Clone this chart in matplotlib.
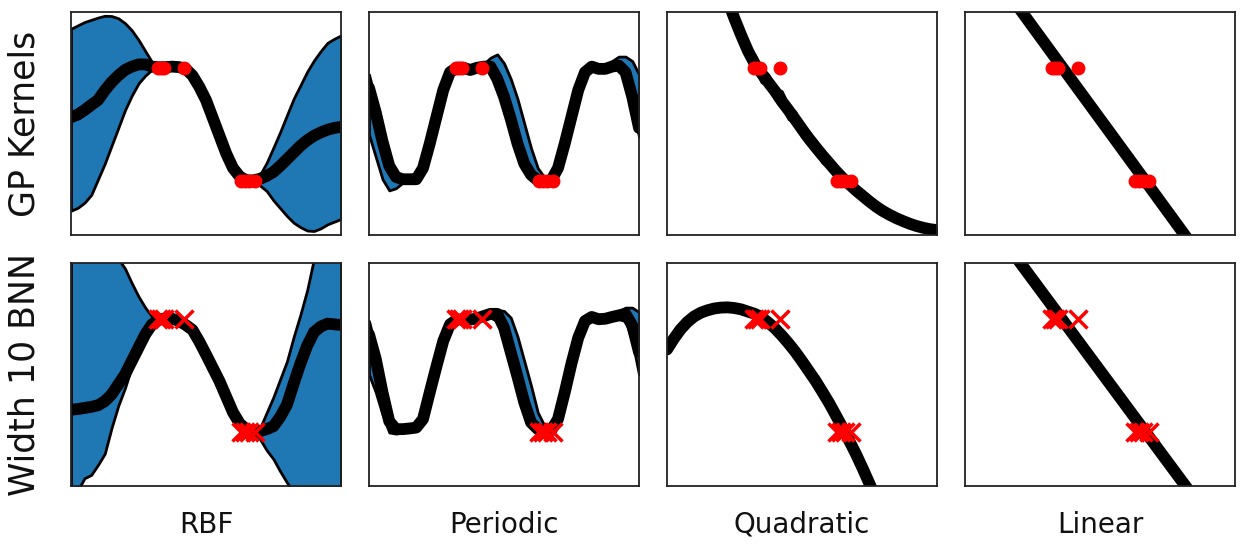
import matplotlib
matplotlib.use("Agg")
import matplotlib.pyplot as plt

# ---------------- data (panel-normalised coordinates) ----------------
x_grid = [0.0, 0.025, 0.05, 0.075, 0.1, 0.125, 0.15, 0.175, 0.2, 0.225,
          0.25, 0.275, 0.3, 0.325, 0.35, 0.375, 0.4, 0.425, 0.45, 0.475,
          0.5, 0.525, 0.55, 0.575, 0.6, 0.625, 0.65, 0.675, 0.7, 0.725,
          0.75, 0.775, 0.8, 0.825, 0.85, 0.875, 0.9, 0.925, 0.95, 0.975, 1.0]

obs_x = [0.322, 0.333, 0.345, 0.417, 0.63, 0.645, 0.66, 0.68]
obs_y = [0.748, 0.748, 0.748, 0.748, 0.244, 0.244, 0.244, 0.244]

# GP, RBF kernel
rbf_gp_mean = [0.528, 0.540, 0.560, 0.583, 0.605, 0.648, 0.685, 0.715, 0.740, 0.755,
               0.765, 0.765, 0.755, 0.752, 0.753, 0.755, 0.753, 0.745, 0.715, 0.665,
               0.605, 0.525, 0.445, 0.365, 0.300, 0.262, 0.245, 0.245, 0.252, 0.265,
               0.283, 0.310, 0.340, 0.370, 0.400, 0.425, 0.445, 0.460, 0.472, 0.480, 0.485]
rbf_gp_upper = [0.925, 0.940, 0.955, 0.965, 0.975, 0.983, 0.982, 0.972, 0.950, 0.918,
                0.875, 0.825, 0.775, 0.760, 0.760, 0.762, 0.762, 0.760, 0.735, 0.685,
                0.625, 0.545, 0.462, 0.380, 0.312, 0.268, 0.250, 0.255, 0.270, 0.325,
                0.393, 0.463, 0.538, 0.612, 0.672, 0.733, 0.783, 0.825, 0.862, 0.880, 0.895]
rbf_gp_lower = [0.109, 0.122, 0.145, 0.180, 0.250, 0.320, 0.400, 0.480, 0.560, 0.625,
                0.680, 0.715, 0.742, 0.745, 0.746, 0.748, 0.745, 0.732, 0.695, 0.645,
                0.585, 0.505, 0.428, 0.350, 0.288, 0.255, 0.240, 0.238, 0.222, 0.197,
                0.155, 0.120, 0.085, 0.055, 0.035, 0.020, 0.018, 0.030, 0.048, 0.060, 0.072]

# BNN, RBF
rbf_bnn_mean = [0.342, 0.345, 0.350, 0.355, 0.362, 0.380, 0.410, 0.455, 0.500, 0.560,
                0.620, 0.680, 0.725, 0.745, 0.752, 0.750, 0.740, 0.722, 0.700, 0.648,
                0.590, 0.530, 0.470, 0.400, 0.330, 0.280, 0.253, 0.248, 0.246, 0.255,
                0.268, 0.310, 0.365, 0.460, 0.550, 0.630, 0.690, 0.715, 0.728, 0.725, 0.722]
rbf_bnn_upper = [1.30, 1.28, 1.25, 1.20, 1.15, 1.10, 1.06, 1.02, 0.975, 0.910,
                 0.850, 0.800, 0.760, 0.755, 0.757, 0.756, 0.748, 0.730, 0.708, 0.660,
                 0.602, 0.542, 0.482, 0.412, 0.342, 0.290, 0.262, 0.256, 0.260, 0.330,
                 0.400, 0.480, 0.560, 0.670, 0.770, 0.880, 1.02, 1.10, 1.15, 1.20, 1.25]
rbf_bnn_lower = [-0.10, -0.02, 0.035, 0.050, 0.095, 0.145, 0.260, 0.360, 0.440, 0.535,
                 0.620, 0.675, 0.715, 0.735, 0.745, 0.744, 0.732, 0.714, 0.692, 0.635,
                 0.578, 0.518, 0.458, 0.388, 0.318, 0.270, 0.244, 0.238, 0.210, 0.160,
                 0.120, 0.065, 0.015, -0.03, -0.08, -0.12, -0.15, -0.18, -0.20, -0.20, -0.20]

# GP, periodic kernel
per_gp_mean = [0.66, 0.55, 0.42, 0.31, 0.26, 0.25, 0.25, 0.25, 0.30, 0.41,
               0.53, 0.65, 0.73, 0.75, 0.75, 0.74, 0.75, 0.755, 0.755, 0.70,
               0.62, 0.52, 0.41, 0.32, 0.27, 0.245, 0.24, 0.245, 0.30, 0.41,
               0.53, 0.65, 0.73, 0.755, 0.745, 0.745, 0.755, 0.76, 0.73, 0.62, 0.48]
per_gp_upper = [0.72, 0.60, 0.46, 0.34, 0.275, 0.26, 0.26, 0.26, 0.32, 0.43,
                0.55, 0.67, 0.745, 0.758, 0.758, 0.748, 0.758, 0.768, 0.795, 0.81,
                0.77, 0.70, 0.61, 0.50, 0.39, 0.30, 0.258, 0.25, 0.31, 0.42,
                0.54, 0.66, 0.74, 0.765, 0.76, 0.765, 0.78, 0.80, 0.80, 0.78, 0.72]
per_gp_lower = [0.45, 0.35, 0.25, 0.20, 0.21, 0.235, 0.24, 0.24, 0.285, 0.39,
                0.51, 0.63, 0.715, 0.742, 0.742, 0.732, 0.74, 0.745, 0.735, 0.68,
                0.60, 0.50, 0.39, 0.30, 0.255, 0.235, 0.232, 0.24, 0.29, 0.40,
                0.52, 0.64, 0.72, 0.745, 0.735, 0.735, 0.745, 0.745, 0.70, 0.58, 0.44]

# BNN, periodic
per_bnn_mean = [0.68, 0.57, 0.42, 0.29, 0.255, 0.255, 0.258, 0.262, 0.30, 0.42,
                0.537, 0.65, 0.725, 0.746, 0.748, 0.746, 0.752, 0.762, 0.772, 0.772,
                0.71, 0.60, 0.49, 0.375, 0.285, 0.255, 0.247, 0.25, 0.30, 0.42,
                0.55, 0.665, 0.74, 0.758, 0.748, 0.75, 0.758, 0.765, 0.772, 0.72, 0.60]
per_bnn_upper = [0.74, 0.62, 0.47, 0.33, 0.27, 0.265, 0.268, 0.272, 0.31, 0.43,
                 0.55, 0.665, 0.74, 0.755, 0.757, 0.755, 0.762, 0.775, 0.785, 0.79,
                 0.785, 0.755, 0.67, 0.56, 0.45, 0.33, 0.27, 0.26, 0.31, 0.43,
                 0.56, 0.675, 0.75, 0.77, 0.76, 0.762, 0.77, 0.785, 0.80, 0.80, 0.78]
per_bnn_lower = [0.50, 0.42, 0.32, 0.24, 0.235, 0.24, 0.245, 0.25, 0.285, 0.40,
                 0.52, 0.635, 0.71, 0.736, 0.738, 0.736, 0.742, 0.748, 0.755, 0.74,
                 0.67, 0.56, 0.45, 0.34, 0.26, 0.236, 0.237, 0.24, 0.29, 0.41,
                 0.54, 0.655, 0.73, 0.745, 0.736, 0.738, 0.745, 0.748, 0.74, 0.65, 0.50]

# GP, quadratic kernel (visible from x = 0.2)
quad_gp_x = x_grid[8:]
quad_gp_mean = [1.13, 1.05, 0.97, 0.895, 0.825, 0.768, 0.725, 0.685, 0.645, 0.60,
                0.56, 0.518, 0.475, 0.433, 0.395, 0.358, 0.323, 0.288, 0.256, 0.228,
                0.20, 0.175, 0.150, 0.127, 0.107, 0.090, 0.075, 0.062, 0.050, 0.040,
                0.032, 0.026, 0.022]
quad_gp_upper = [1.16, 1.085, 0.99, 0.93, 0.84, 0.808, 0.745, 0.72, 0.66, 0.645,
                 0.58, 0.553, 0.49, 0.463, 0.425, 0.378, 0.348, 0.313, 0.271, 0.251,
                 0.22, 0.193, 0.17, 0.145, 0.125, 0.104, 0.09, 0.076, 0.06, 0.051,
                 0.042, 0.034, 0.03]
quad_gp_lower = [1.11, 1.02, 0.93, 0.88, 0.79, 0.748, 0.685, 0.67, 0.61, 0.58,
                 0.52, 0.503, 0.44, 0.413, 0.38, 0.325, 0.303, 0.26, 0.236, 0.21,
                 0.18, 0.153, 0.135, 0.107, 0.095, 0.074, 0.063, 0.051, 0.04, 0.03,
                 0.024, 0.018, 0.014]

# BNN, quadratic (visible up to x = 0.8)
quad_bnn_x = x_grid[:33]
quad_bnn_mean = [0.612, 0.66, 0.702, 0.735, 0.760, 0.777, 0.788, 0.796, 0.800, 0.801,
                 0.798, 0.792, 0.782, 0.772, 0.757, 0.733, 0.707, 0.675, 0.640, 0.602,
                 0.560, 0.516, 0.472, 0.423, 0.373, 0.318, 0.262, 0.203, 0.143, 0.078,
                 0.010, -0.06, -0.13]

# Linear kernel / BNN
lin_x = [0.15, 0.35, 0.55, 0.75, 0.9]
lin_gp_mean = [1.101, 0.769, 0.438, 0.106, -0.143]
lin_bnn_mean = [1.09, 0.763, 0.436, 0.109, -0.136]

col_titles = ["RBF", "Periodic", "Quadratic", "Linear"]
row_titles = ["GP Kernels", "Width 10 BNN"]

# ---------------- figure ----------------
W, H = 1250, 551
fig = plt.figure(figsize=(W / 100, H / 100), dpi=100)
col_left = [71, 369, 667, 965]
row_top = [12, 263]
pw, ph = 270, 223

BLUE = "#1f77b4"


def make_ax(r, c):
    ax = fig.add_axes([col_left[c] / W, (H - row_top[r] - ph) / H, pw / W, ph / H])
    ax.set_xlim(0, 1)
    ax.set_ylim(0, 1)
    ax.set_xticks([])
    ax.set_yticks([])
    for s in ax.spines.values():
        s.set_linewidth(1.3)
        s.set_color("#222222")
    return ax


def panel(ax, x, mean, lower=None, upper=None, marker="o"):
    if lower is not None:
        ax.fill_between(x, lower, upper, facecolor=BLUE, edgecolor="black",
                        linewidth=2.0, zorder=1)
    ax.plot(x, mean, color="black", linewidth=8.5, zorder=2,
            solid_joinstyle="round", solid_capstyle="round")
    if marker == "o":
        ax.plot(obs_x, obs_y, "o", color="red", markersize=9, zorder=3)
    else:
        ax.plot(obs_x, obs_y, "x", color="red", markersize=13, markeredgewidth=2.5, zorder=3)


# row 1: GP kernels
panel(make_ax(0, 0), x_grid, rbf_gp_mean, rbf_gp_lower, rbf_gp_upper, "o")
panel(make_ax(0, 1), x_grid, per_gp_mean, per_gp_lower, per_gp_upper, "o")
panel(make_ax(0, 2), quad_gp_x, quad_gp_mean, quad_gp_lower, quad_gp_upper, "o")
panel(make_ax(0, 3), lin_x, lin_gp_mean, None, None, "o")

# row 2: BNN
panel(make_ax(1, 0), x_grid, rbf_bnn_mean, rbf_bnn_lower, rbf_bnn_upper, "x")
panel(make_ax(1, 1), x_grid, per_bnn_mean, per_bnn_lower, per_bnn_upper, "x")
panel(make_ax(1, 2), quad_bnn_x, quad_bnn_mean, None, None, "x")
panel(make_ax(1, 3), lin_x, lin_bnn_mean, None, None, "x")

for c, t in enumerate(col_titles):
    fig.text((col_left[c] + pw / 2) / W, 18 / H, t, ha="center", va="baseline",
             fontsize=20, color="#111111")
for r, t in enumerate(row_titles):
    fig.text(25 / W, (H - row_top[r] - ph / 2) / H, t, rotation=90, ha="center",
             va="center", fontsize=25, color="#111111")

fig.savefig("out.png", dpi=100)
